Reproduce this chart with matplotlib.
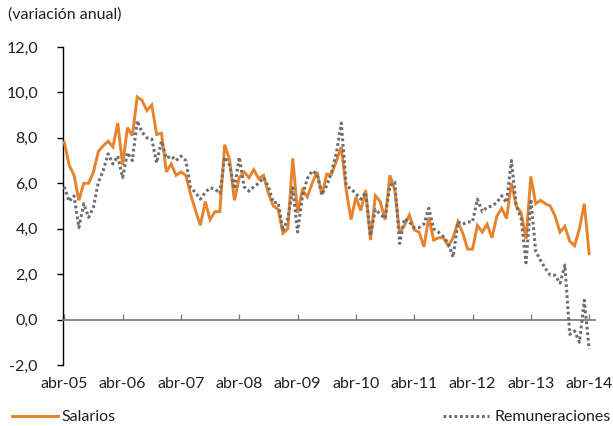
import matplotlib
matplotlib.use("Agg")
import matplotlib.pyplot as plt
from matplotlib.lines import Line2D
from matplotlib.ticker import FuncFormatter

plt.rcParams['font.family'] = ['Lato', 'DejaVu Sans']

month_names = ["ene", "feb", "mar", "abr", "may", "jun", "jul", "ago", "sep", "oct", "nov", "dic"]
n_points = 109
categories = [f"{month_names[(3 + k) % 12]}-{(5 + (3 + k) // 12):02d}" for k in range(n_points)]

salarios = [
    7.8, 6.8, 6.35, 5.25, 6.0, 6.0, 6.5, 7.4, 7.65, 7.85, 7.6, 8.65,
    6.8, 8.45, 8.1, 9.8, 9.65, 9.2, 9.45, 8.15, 8.2, 6.5, 6.85, 6.35,
    6.5, 6.35, 5.5, 4.8, 4.15, 5.2, 4.4, 4.75, 4.75, 7.7, 7.05, 5.25,
    6.25, 6.5, 6.25, 6.6, 6.2, 6.35, 5.55, 5.0, 4.85, 3.8, 4.0, 7.1,
    4.7, 5.7, 5.4, 6.0, 6.5, 5.5, 6.4, 6.4, 7.0, 7.6, 5.7, 4.4,
    5.4, 4.8, 5.7, 3.5, 5.45, 5.2, 4.4, 6.35, 5.7, 3.8, 4.15, 4.6,
    3.95, 3.85, 3.2, 4.5, 3.5, 3.6, 3.6, 3.25, 3.6, 4.3, 3.8, 3.1,
    3.1, 4.15, 3.85, 4.2, 3.6, 4.55, 4.9, 4.45, 6.0, 5.0, 4.7, 3.55,
    6.3, 5.1, 5.25, 5.1, 5.0, 4.55, 3.85, 4.1, 3.45, 3.25, 4.0, 5.1,
    2.9,
]

remuneraciones = [
    5.85, 5.2, 5.45, 4.05, 5.1, 4.5, 4.95, 6.05, 6.55, 7.3, 6.85, 7.2,
    6.25, 7.35, 7.0, 8.75, 8.25, 8.0, 7.95, 6.9, 7.85, 7.1, 7.2, 7.0,
    7.2, 7.0, 5.8, 5.6, 5.3, 5.6, 5.8, 5.75, 5.55, 7.15, 6.8, 5.75,
    7.15, 5.85, 5.65, 5.85, 6.0, 6.25, 5.85, 5.15, 5.15, 3.9, 4.45, 5.8,
    3.85, 5.45, 6.2, 6.55, 6.4, 5.5, 5.9, 6.5, 7.35, 8.65, 5.9, 5.75,
    5.55, 5.3, 5.6, 3.7, 4.85, 4.65, 4.45, 5.9, 6.05, 3.35, 4.45, 4.3,
    4.05, 4.05, 4.2, 4.9, 4.0, 3.85, 3.65, 3.35, 2.75, 4.3, 4.2, 4.3,
    4.3, 5.3, 4.75, 4.95, 5.0, 5.15, 5.45, 5.15, 7.0, 5.0, 4.45, 2.5,
    5.3, 3.0, 2.6, 2.25, 1.95, 1.95, 1.6, 2.4, -0.65, -0.5, -1.0, 0.85,
    -1.3,
]

y_ticks = [-2, 0, 2, 4, 6, 8, 10, 12]
series_names = ["Salarios", "Remuneraciones"]

orange = "#E8832D"
gray = "#6D6E71"
text_color = "#231F20"

W, H = 613, 426
fig = plt.figure(figsize=(W / 100, H / 100), dpi=100)
ax = fig.add_axes([63 / W, (H - 365) / H, (595 - 63) / W, (365 - 47) / H])

x = list(range(n_points))
ax.plot(x, salarios, color=orange, lw=2.1, solid_joinstyle='miter', zorder=3)
ax.plot(x, remuneraciones, color=gray, lw=2.2, linestyle=(0, (0.9, 0.9)), zorder=4)

ax.set_xlim(-0.27, 109.2)
ax.set_ylim(-2, 12)
ax.set_yticks(y_ticks)
ax.yaxis.set_major_formatter(FuncFormatter(lambda v, p: f"{v:.1f}".replace(".", ",")))

tick_pos = list(range(0, n_points, 12))
ax.set_xticks(tick_pos)
ax.set_xticklabels([categories[k] for k in tick_pos])

for s in ["top", "right"]:
    ax.spines[s].set_visible(False)
ax.spines["left"].set_color("#000000")
ax.spines["left"].set_linewidth(1.0)
ax.spines["bottom"].set_position(("data", 0))
ax.spines["bottom"].set_color("#7F7F7F")
ax.spines["bottom"].set_linewidth(1.3)

ax.tick_params(axis="y", direction="out", length=4, width=1, color="#000000",
               labelsize=11.5, labelcolor=text_color, pad=14)
ax.tick_params(axis="x", direction="in", length=4, width=1, color="#7F7F7F",
               labelsize=11.5, labelcolor=text_color, pad=41)

fig.text(8 / W, 1 - 15 / H, "(variación anual)", fontsize=11.5, color=text_color,
         va="center", ha="left")

h1 = Line2D([], [], color=orange, lw=2.1)
h2 = Line2D([], [], color=gray, lw=2.2, linestyle=(0, (0.9, 0.9)))
leg1 = fig.legend([h1], [series_names[0]], loc="center left",
                  bbox_to_anchor=(0.011, 1 - 417 / H), frameon=False, fontsize=11.5,
                  handlelength=2.9, handletextpad=0.25, borderaxespad=0, borderpad=0.3)
for t in leg1.get_texts():
    t.set_color(text_color)
leg2 = fig.legend([h2], [series_names[1]], loc="center right",
                  bbox_to_anchor=(1.004, 1 - 417 / H), frameon=False, fontsize=11.5,
                  handlelength=2.9, handletextpad=0.35, borderaxespad=0, borderpad=0.3)
for t in leg2.get_texts():
    t.set_color(text_color)

fig.savefig("out.png", dpi=100)
